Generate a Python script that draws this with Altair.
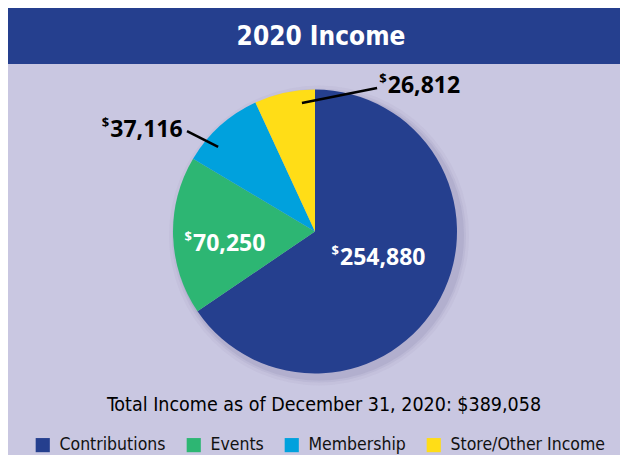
import altair as alt
import pandas as pd

# ---- data ----
categories = ["Contributions", "Events", "Membership", "Store/Other Income"]
values = [254880, 70250, 37116, 26812]
labels = ["254,880", "70,250", "37,116", "26,812"]
title_text = ["2020 Income"]
total_text = ["Total Income as of December 31, 2020: $389,058"]

colors = ["#253f8e", "#2db673", "#00a1dd", "#ffdd17"]

df = pd.DataFrame({"category": categories, "value": values, "label": labels,
                   "order": list(range(len(categories)))})

# ---- layout / style ----
W, H = 612, 447
CX, CY, R = 307, 223.5, 142
BG = "#c9c7e1"
HEADER = "#253f8e"
NARROW = "DejaVu Sans Condensed, Liberation Sans Narrow, sans-serif"
BOLD = "Open Sans, Noto Sans, sans-serif"

# label placement: radius along the slice mid-angle plus a pixel nudge
place = {
    "Contributions": dict(r=60, dx=-28, dy=-2, color="white"),
    "Events": dict(r=90, dx=-32, dy=10, color="white"),
    "Membership": dict(r=170, dx=-91, dy=25, color="black"),
    "Store/Other Income": dict(r=150, dx=105, dy=1, color="black"),
}
# leader lines: (radius, angle offset in degrees) for both ends
leaders = {
    "Membership": ((128.6, -6.9), (162.7, -9.9)),
    "Store/Other Income": ((129.2, 6.6), (156.3, 35.8)),
}

base = (alt.Chart(df)
        .transform_joinaggregate(total="sum(value)")
        .transform_window(cum="sum(value)", sort=[alt.SortField("order")], frame=[None, 0])
        .transform_calculate(mid="(datum.cum - datum.value/2) / datum.total * 2 * PI"))

def px(r, da=0):
    return f"{CX} + {r} * sin(datum.mid + {da} * PI / 180)"

def py(r, da=0):
    return f"{CY} - {r} * cos(datum.mid + {da} * PI / 180)"

header = alt.Chart(pd.DataFrame({"t": title_text})).mark_rect(color=HEADER).encode(
    x=alt.value(-2), x2=alt.value(W + 2), y=alt.value(0), y2=alt.value(56))

title = alt.Chart(pd.DataFrame({"t": title_text})).mark_text(
    font=NARROW, fontSize=26, fontWeight="bold", color="white",
    align="center", baseline="middle").encode(
    text="t:N", x=alt.value(313), y=alt.value(29))

shadows = []
for rr, op in [(150, 0.06), (147, 0.09), (145, 0.12)]:
    shadows.append(alt.Chart(pd.DataFrame({"t": [1]})).mark_arc(
        outerRadius=rr, color="#6f6b98", opacity=op).encode(
        theta=alt.value(2 * 3.14159265), x=alt.value(CX + 4), y=alt.value(CY + 4)))

pie = alt.Chart(df).mark_arc(outerRadius=R, stroke=None).encode(
    theta=alt.Theta("value:Q", stack=True),
    order=alt.Order("order:Q"),
    color=alt.Color("category:N", sort=categories,
                    scale=alt.Scale(domain=categories, range=colors),
                    legend=alt.Legend(title=None, orient="none", legendX=26, legendY=428,
                                      direction="horizontal", symbolType="square",
                                      symbolSize=200, symbolStrokeWidth=0, symbolOpacity=1,
                                      labelFont=NARROW, labelFontSize=17.5, labelColor="#111",
                                      labelOffset=8, columnPadding=19)),
    x=alt.value(CX), y=alt.value(CY))

layers = [header, title] + shadows + [pie]

for cat, p in place.items():
    b = base.transform_filter(alt.datum.category == cat).transform_calculate(
        lx=px(p["r"]), ly=py(p["r"]))
    num = b.mark_text(font=BOLD, fontSize=23, fontWeight="bold", color=p["color"],
                      align="left", baseline="middle", dx=p["dx"], dy=p["dy"]).encode(
        x=alt.X("lx:Q", scale=None, axis=None), y=alt.Y("ly:Q", scale=None, axis=None),
        text="label:N")
    dol = b.mark_text(font=BOLD, fontSize=13, fontWeight="bold", color=p["color"],
                      align="right", baseline="middle", dx=p["dx"] - 1, dy=p["dy"] - 7,
                      text="$").encode(
        x=alt.X("lx:Q", scale=None, axis=None), y=alt.Y("ly:Q", scale=None, axis=None))
    layers += [num, dol]

for cat, ((r1, a1), (r2, a2)) in leaders.items():
    b = base.transform_filter(alt.datum.category == cat).transform_calculate(
        x1=px(r1, a1), y1=py(r1, a1), x2=px(r2, a2), y2=py(r2, a2))
    layers.append(b.mark_rule(color="black", strokeWidth=2.5).encode(
        x=alt.X("x1:Q", scale=None, axis=None), y=alt.Y("y1:Q", scale=None, axis=None),
        x2="x2:Q", y2="y2:Q"))

total = alt.Chart(pd.DataFrame({"t": total_text})).mark_text(
    font=NARROW, fontSize=19.5, color="black", align="center", baseline="middle").encode(
    text="t:N", x=alt.value(316), y=alt.value(397))
layers.append(total)

chart = alt.layer(*layers).properties(
    width=W, height=H, padding=0, autosize=alt.AutoSizeParams(type="none"),
    background=BG
).configure_view(stroke=None)

chart.save("out.html", embed_options={"renderer": "svg", "actions": False})
